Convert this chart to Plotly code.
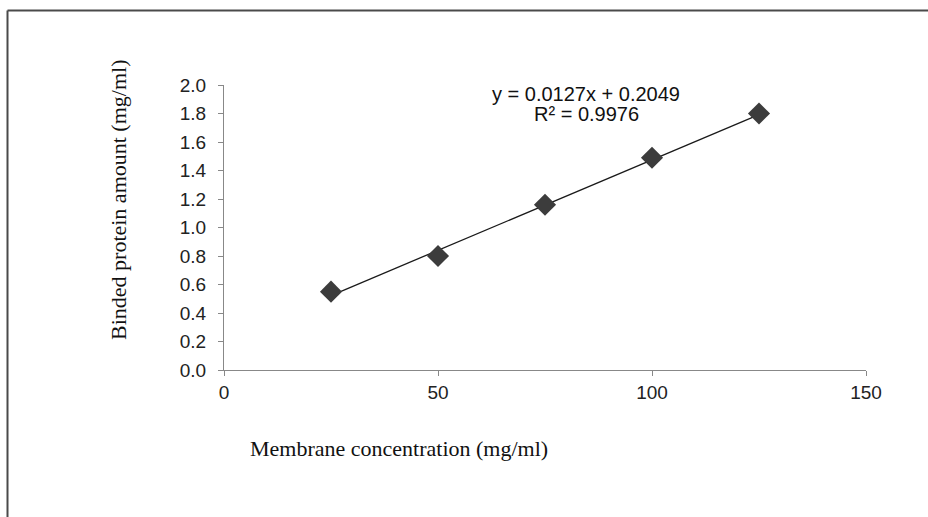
import numpy as np
import plotly.graph_objects as go

# Data
membrane_conc = [25, 50, 75, 100, 125]
binded_protein = [0.55, 0.80, 1.16, 1.49, 1.80]
slope = 0.0127
intercept = 0.2049
r_squared = 0.9976
x_ticks = [0, 50, 100, 150]
y_ticks = [0.0, 0.2, 0.4, 0.6, 0.8, 1.0, 1.2, 1.4, 1.6, 1.8, 2.0]

W, H = 928, 517
L, R, T, B = 224, 62, 85, 147
pw = W - L - R
ph = H - T - B

def px(x):
    return (x - L) / pw

def py(y):
    return (H - B - y) / ph

trend_x = np.array([membrane_conc[0], membrane_conc[-1]])
trend_y = slope * trend_x + intercept

fig = go.Figure()
fig.add_trace(go.Scatter(
    x=trend_x, y=trend_y, mode="lines",
    line=dict(color="#1a1a1a", width=1.3),
    showlegend=False, hoverinfo="skip"))
fig.add_trace(go.Scatter(
    x=membrane_conc, y=binded_protein, mode="markers",
    marker=dict(symbol="diamond", size=17, color="#3c3c3c",
                line=dict(width=0)),
    showlegend=False))

sans = "Liberation Sans, Arial, sans-serif"
serif = "Liberation Serif, Times New Roman, serif"

fig.update_xaxes(range=[0, 150], tickvals=x_ticks, ticks="outside", ticklen=5,
                 tickcolor="#888", showline=True, linecolor="#888", linewidth=1,
                 showgrid=False, zeroline=False,
                 tickfont=dict(family=sans, size=19, color="#222"))
fig.update_yaxes(range=[0, 2.0], tickvals=y_ticks, tickformat=".1f",
                 ticks="outside", ticklen=5, tickcolor="#888",
                 showline=True, linecolor="#888", linewidth=1,
                 showgrid=False, zeroline=False, ticklabelstandoff=8,
                 tickfont=dict(family=sans, size=19, color="#222"))

annotations = [
    dict(text="Membrane concentration (mg/ml)", x=px(399), y=py(448),
         xref="paper", yref="paper", showarrow=False,
         xanchor="center", yanchor="middle",
         font=dict(family=serif, size=22, color="#111")),
    dict(text="Binded protein amount (mg/ml)", x=px(118), y=py(200),
         xref="paper", yref="paper", showarrow=False, textangle=-90,
         xanchor="center", yanchor="middle",
         font=dict(family=serif, size=22, color="#111")),
    dict(text=f"y = {slope}x + {intercept}", x=px(586), y=py(94),
         xref="paper", yref="paper", showarrow=False,
         xanchor="center", yanchor="middle",
         font=dict(family=sans, size=20, color="#111")),
    dict(text=f"R² = {r_squared}", x=px(586), y=py(114),
         xref="paper", yref="paper", showarrow=False,
         xanchor="center", yanchor="middle",
         font=dict(family=sans, size=20, color="#111")),
]

shapes = [
    dict(type="line", xref="paper", yref="paper",
         x0=px(7.5), x1=px(935), y0=py(10.5), y1=py(10.5),
         line=dict(color="#4a4a4a", width=2)),
    dict(type="line", xref="paper", yref="paper",
         x0=px(7.5), x1=px(7.5), y0=py(10.5), y1=py(525),
         line=dict(color="#4a4a4a", width=2)),
]

fig.update_layout(
    width=W, height=H,
    margin=dict(l=L, r=R, t=T, b=B),
    plot_bgcolor="white", paper_bgcolor="white",
    annotations=annotations, shapes=shapes,
    showlegend=False,
)

fig.write_html("out.html")
